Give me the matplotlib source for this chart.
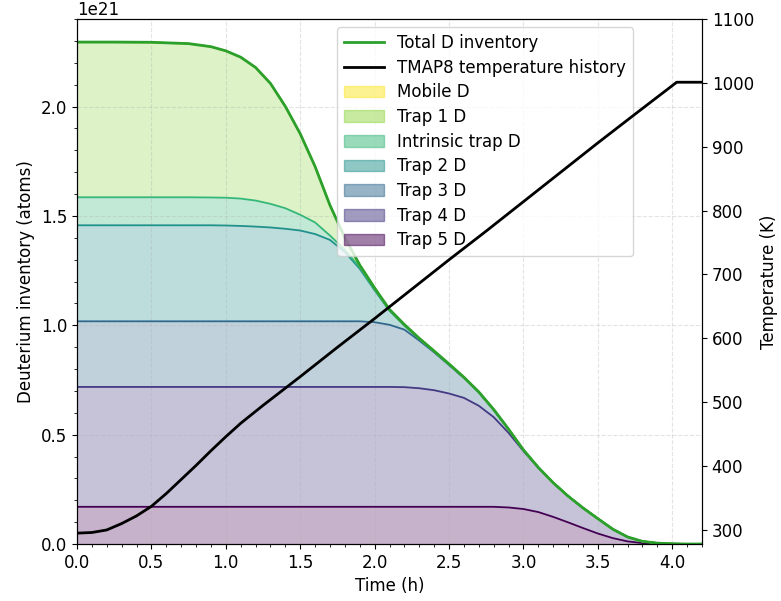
import numpy as np
import matplotlib
matplotlib.use('Agg')
import matplotlib.pyplot as plt
from matplotlib.patches import Patch
from matplotlib.ticker import AutoMinorLocator, MultipleLocator

plt.rcParams['font.size'] = 12

# time (h) for the inventories
time_h = [0, 0.25, 0.5, 0.75, 0.9, 1.0, 1.1, 1.2, 1.3, 1.4,
          1.5, 1.6, 1.7, 1.8, 1.9, 2.0, 2.1, 2.2, 2.3, 2.4,
          2.5, 2.6, 2.7, 2.8, 2.9, 3.0, 3.1, 3.2, 3.3, 3.4,
          3.5, 3.6, 3.7, 3.8, 3.9, 4.0, 4.1, 4.2]

# inventories in 1e21 atoms
trap5 = [0.170] * 24 + [0.167, 0.160, 0.146, 0.124, 0.099, 0.073, 0.048, 0.027,
                        0.012, 0.004, 0.001, 0.0, 0.0, 0.0]
trap4 = [0.548] * 17 + [0.547, 0.542, 0.533, 0.518, 0.498, 0.462, 0.410, 0.341,
                        0.265, 0.202, 0.155, 0.120, 0.092, 0.068, 0.041, 0.020,
                        0.008, 0.003, 0.001, 0.0, 0.0]
trap3 = [0.300] * 15 + [0.296, 0.284, 0.263, 0.218, 0.173, 0.130, 0.091, 0.061,
                        0.033, 0.016, 0.004, 0.002, 0.001] + [0.0] * 10
trap2 = [0.439] * 5 + [0.438, 0.436, 0.433, 0.429, 0.423, 0.415, 0.399, 0.372,
                       0.317, 0.240, 0.146, 0.064, 0.018, 0.008, 0.004, 0.003,
                       0.002, 0.001] + [0.0] * 15
intrinsic = [0.128] * 4 + [0.127, 0.127, 0.125, 0.119, 0.108, 0.094, 0.072, 0.053,
                           0.020, 0.010, 0.007, 0.005, 0.003, 0.002, 0.001] + [0.0] * 19
trap1 = [0.709, 0.709, 0.708, 0.702, 0.689, 0.671, 0.646, 0.608, 0.550, 0.465,
         0.370, 0.255, 0.138, 0.055, 0.010, 0.005, 0.003, 0.003, 0.001, 0.002,
         0.002, 0.001, 0.001, 0.002, 0.001, 0.001] + [0.0] * 12
mobile = [0.0005] * 16 + [0.0003] * 10 + [0.0] * 12

# TMAP8 temperature history
temp_time = [0, 0.1, 0.2, 0.3, 0.4, 0.5, 0.6, 0.7, 0.8, 0.9, 1.0, 1.1, 1.25, 1.5,
             1.75, 2.0, 2.25, 2.5, 2.75, 3.0, 3.25, 3.5, 3.75, 4.03, 4.2]
temp_K = [295, 296, 300, 310, 322, 337, 357, 379, 401, 424, 446, 467, 495, 540,
          586, 631, 677, 723, 768, 814, 860, 906, 951, 1001, 1001]

labels = ['Trap 5 D', 'Trap 4 D', 'Trap 3 D', 'Trap 2 D', 'Intrinsic trap D',
          'Trap 1 D', 'Mobile D']
layers = np.array([trap5, trap4, trap3, trap2, intrinsic, trap1, mobile]) * 1e21
colors = plt.cm.viridis(np.linspace(0, 1, 7))
t = np.array(time_h)
cum = np.cumsum(layers, axis=0)
total = cum[-1]

fig = plt.figure(figsize=(7.81, 6.01), dpi=100)
ax = fig.add_axes([77 / 781, 57 / 601, 625 / 781, 525 / 601])

lower = np.zeros_like(t)
patches = []
for i in range(7):
    ax.fill_between(t, lower, cum[i], color=colors[i], alpha=0.3, lw=0)
    ax.plot(t, cum[i], color=colors[i], lw=1.3)
    lower = cum[i]
    patches.append(Patch(facecolor=colors[i], edgecolor=colors[i], alpha=0.5,
                         label=labels[i]))
tot_line, = ax.plot(t, total, color='#2ca02c', lw=2, label='Total D inventory')

ax.set_xlim(0, 4.2)
ax.set_ylim(0, 2.40e21)
ax.xaxis.set_major_locator(MultipleLocator(0.5))
ax.xaxis.set_minor_locator(AutoMinorLocator(5))
ax.yaxis.set_minor_locator(AutoMinorLocator(5))
ax.set_xlabel('Time (h)')
ax.set_ylabel('Deuterium inventory (atoms)')
ax.grid(True, linestyle='--', alpha=0.35)

ax2 = ax.twinx()
temp_line, = ax2.plot(temp_time, temp_K, color='black', lw=2,
                      label='TMAP8 temperature history')
ax2.set_ylim(278, 1100)
ax2.set_ylabel('Temperature (K)')

handles = [tot_line, temp_line] + patches[::-1]
ax.legend(handles=handles, loc='upper right', bbox_to_anchor=(0.903, 1.0),
          framealpha=0.8, labelspacing=0.4, handlelength=2.4)

fig.savefig('out.png', dpi=100)
